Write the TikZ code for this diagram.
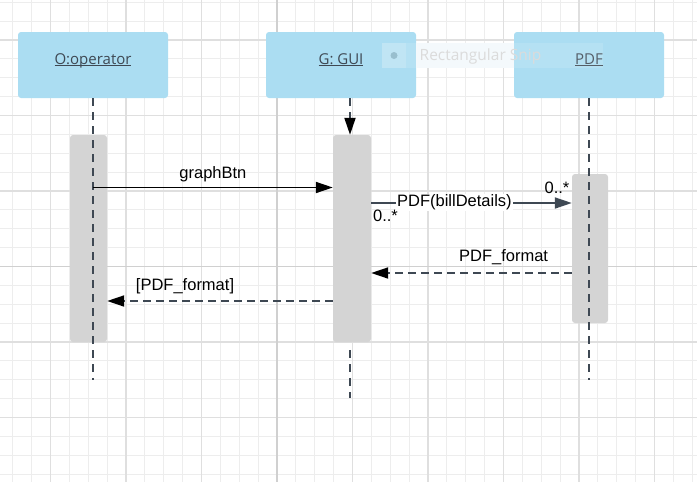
\documentclass[tikz,border=0pt]{standalone}
\usepackage{fontspec}
\setmainfont{Liberation Sans}
\newfontfamily\boxfont{Open Sans}
\usetikzlibrary{arrows.meta}
\definecolor{boxblue}{HTML}{ABDDF2}
\definecolor{bargray}{HTML}{D4D4D4}
\definecolor{slate}{HTML}{3E4853}
\definecolor{gridminor}{HTML}{EDEDED}
\definecolor{gridmajor}{HTML}{DFDFDF}
\definecolor{gridstrong}{HTML}{D0D0D0}
\definecolor{snipblue}{HTML}{F3F9FC}
\newcommand\ulbox[1]{\underline{\smash{#1}}}
\tikzset{
  lifebox/.style={fill=boxblue, rounded corners=3pt, minimum width=150pt, minimum height=66pt,
    text=slate, font=\boxfont\fontsize{15}{18}\selectfont},
  actbar/.style={fill=bargray, rounded corners=3pt, inner sep=0pt},
  lifeline/.style={draw=slate, line width=2pt, dash pattern=on 8pt off 6pt},
  msg/.style={line width=1.8pt, -{Triangle[length=17pt,width=11pt]}},
  reply/.style={msg, dash pattern=on 8pt off 5pt},
  lbl/.style={font=\fontsize{16.5}{19}\selectfont, text=black, inner sep=0pt}
}
\begin{document}
\begin{tikzpicture}[x=1pt, y=-1pt, line join=round]
  \useasboundingbox (0,0) rectangle (697,482);
  % grid
  \foreach \i in {0,...,36}{
    \draw[gridminor, line width=1pt] (12.75+18.875*\i,0) -- ++(0,482);
  }
  \foreach \j in {0,...,25}{
    \draw[gridminor, line width=1pt] (0,2.25+18.875*\j) -- ++(697,0);
  }
  \foreach \i in {0,...,8}{
    \draw[gridmajor, line width=1.2pt] (50.5+75.5*\i,0) -- ++(0,482);
  }
  \foreach \j in {0,...,5}{
    \draw[gridmajor, line width=1.2pt] (0,40+75.5*\j) -- ++(697,0);
  }
  \draw[gridstrong, line width=1.4pt] (277,0) -- (277,482) (0,266.5) -- (697,266.5);

  % objects
  \node[lifebox] (O) at (93,65) {\ulbox{O:operator}};
  \node[lifebox] (G) at (341,65) {\ulbox{G: GUI}};
  \node[lifebox] (P) at (589,65) {\ulbox{PDF}};

  % snip overlay
  \fill[snipblue] (416,43) rectangle (514,68);
  \fill[white, fill opacity=0.12] (382,43) rectangle (603,68);
  \fill[white, fill opacity=0.15] (382,43) rectangle (406,68);
  \fill[black!25!boxblue, opacity=0.6] (394,55.5) circle (3.5pt);
  \node[font=\boxfont\fontsize{15.5}{18}\selectfont, text=black!14] (snip) at (480.5,56) {Rectangular Snip};

  % activation bars
  \node[actbar, minimum width=37pt, minimum height=207pt] (bO) at (88.5,238.5) {};
  \node[actbar, minimum width=38pt, minimum height=207pt] (bG) at (352,238.5) {};
  \node[actbar, minimum width=36pt, minimum height=149pt] (bP) at (590,248.5) {};

  % lifelines
  \path (93,380) coordinate (eO) (589,380) coordinate (eP)
        (350,98) coordinate (gT) (350,350) coordinate (gB) (350,398) coordinate (gE);
  \draw[lifeline] (O.south) -- (eO);
  \draw[lifeline] (P.south) -- (eP);
  \draw[lifeline, -{Triangle[length=17pt,width=11pt,color=black]}] (gT) -- (gT |- bG.north);
  \draw[lifeline] (gB) -- (gE);

  % messages
  \path (93,187.5) coordinate (m1) (0,203) coordinate (m2) (0,273) coordinate (m3) (0,301) coordinate (m4);
  \draw[msg] (m1) -- (m1 -| bG.west)
    node[lbl, pos=0.5, anchor=base, yshift=9.5pt] (l1) {graphBtn};
  \draw[msg, slate] (m2 -| bG.east) -- (m2 -| bP.west)
    node[lbl, pos=0.415, anchor=base, yshift=-3.7pt, fill=white, inner sep=1pt] (l2) {PDF(billDetails)}
    node[lbl, pos=0, anchor=west, xshift=1pt, yshift=-13pt] (mulL) {0..*}
    node[lbl, pos=1, anchor=east, xshift=-1.5pt, yshift=15.5pt] (mulR) {0..*};
  \draw[reply, slate, -{Triangle[length=17pt,width=11pt,color=black]}] (m3 -| bP.west) -- (m3 -| bG.east)
    node[lbl, pos=0.34, anchor=base, yshift=11.3pt] (l3) {PDF\_format};
  \draw[reply, slate, -{Triangle[length=17pt,width=11pt,color=black]}] (m4 -| bG.west) -- (m4 -| bO.east)
    node[lbl, pos=0.655, anchor=base, yshift=11pt] (l4) {[PDF\_format]};
\end{tikzpicture}
\end{document}
